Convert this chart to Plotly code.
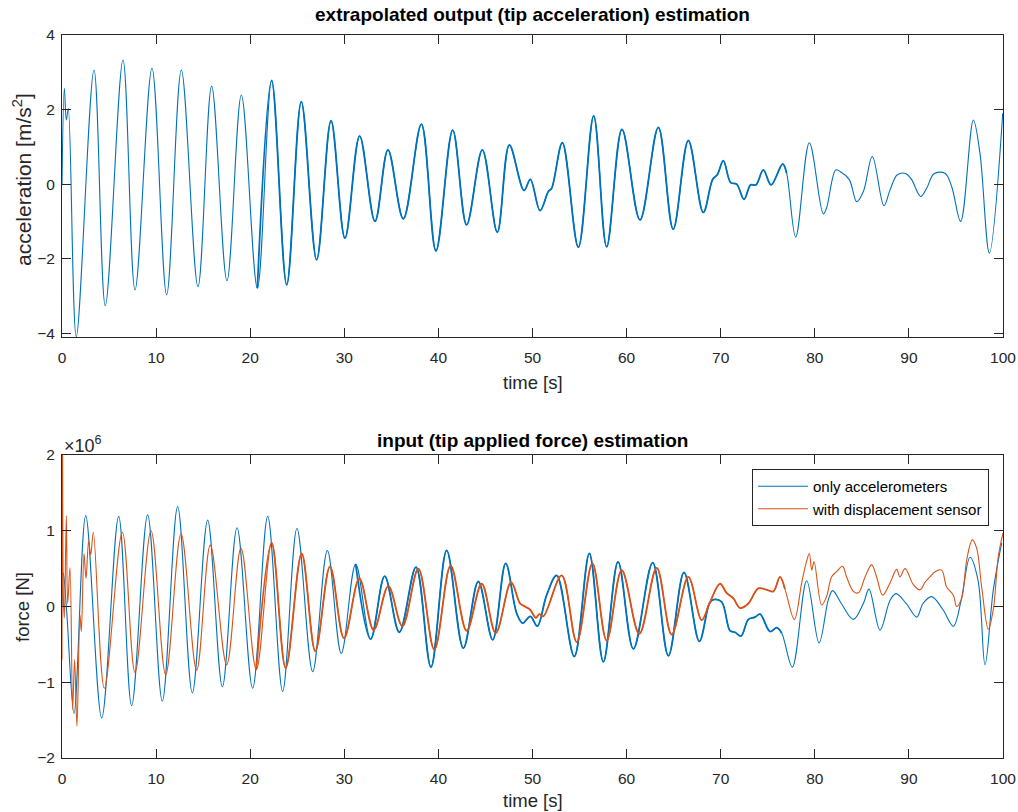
import numpy as np
import plotly.graph_objects as go

# ---------------- data ----------------
# top: extrapolated tip acceleration [m/s^2]
acc_t = [0, 0.25, 0.46, 0.67, 1.52, 3.40, 4.60, 6.48, 7.76, 9.56,
         11.12, 12.68, 14.45, 15.9, 17.53, 19.06, 20.76, 22.28, 23.88, 25.43,
         27.06, 28.59, 30.07, 31.63, 33.26, 34.64, 36.27, 38.19, 39.74, 41.52,
         43.0, 44.67, 46.26, 47.54, 49.1, 49.77, 50.8, 51.68, 52.04, 53.17,
         54.87, 56.5, 57.88, 59.51, 61.42, 63.37, 64.95, 66.56, 68.15, 69.15,
         69.64, 70.28, 71.06, 71.7, 72.48, 73.18, 73.75, 74.53, 75.35, 76.59,
         77.0, 77.97, 79.42, 80.9, 81.25, 82.22, 82.68, 83.67, 84.45, 85.16,
         86.11, 87.35, 87.99, 88.77, 89.69, 90.29, 91.25, 91.89, 92.67, 93.84,
         94.55, 95.5, 96.85, 97.55, 98.55, 99.97]
acc_val = [0, 2.57, 1.72, 2.03, -4.09, 3.06, -3.26, 3.33, -2.84, 3.11,
           -2.97, 3.06, -2.75, 2.63, -2.59, 2.39, -2.79, 2.78, -2.70, 2.21,
           -2.03, 1.70, -1.45, 1.29, -1.0, 0.92, -0.93, 1.61, -1.79, 1.45,
           -1.09, 0.92, -1.29, 1.05, -0.17, 0.13, -0.71, -0.2, -0.11, 1.11,
           -1.69, 1.83, -1.68, 1.47, -0.96, 1.52, -1.21, 1.17, -0.76, 0.13,
           0.25, 0.63, 0.04, 0.0, -0.41, -0.02, -0.02, 0.38, -0.02, 0.54,
           0.3, -1.42, 1.11, -0.8, -0.64, 0.38, 0.34, 0.12, -0.47, -0.2,
           0.74, -0.58, -0.16, 0.25, 0.28, 0.12, -0.33, -0.11, 0.28, 0.29,
           -0.07, -1.0, 1.72, 0.83, -1.85, 1.9]

# bottom: force estimate, only accelerometers [x1e6 N]
facc_t = [0, 0.15, 0.5, 1.28, 2.52, 4.22, 6.02, 7.4, 9.1, 10.66,
          12.29, 13.85, 15.48, 17.04, 18.6, 20.26, 21.86, 23.45, 24.97, 26.64,
          28.2, 29.68, 31.21, 32.8, 34.29, 35.85, 37.62, 39.21, 40.88, 42.65,
          44.24, 45.77, 47.15, 48.32, 48.96, 49.77, 50.51, 51.5, 52.57, 54.44,
          56.04, 57.53, 59.09, 60.72, 62.77, 64.44, 66.1, 67.73, 68.8, 69.22,
          70.1, 70.99, 71.52, 72.16, 72.94, 73.65, 74.18, 75.24, 75.95, 76.48,
          77.61, 79.14, 80.45, 81.44, 81.9, 82.82, 84.1, 85.16, 85.76, 86.93,
          87.99, 88.63, 89.71, 90.83, 91.5, 92.42, 93.61, 94.72, 95.55, 96.49,
          97.34, 98.09, 98.97, 99.86]
facc_val = [0, 0.44, -0.07, -1.41, 1.2, -1.47, 1.19, -1.31, 1.21, -1.25,
            1.32, -1.14, 1.14, -1.06, 1.04, -1.08, 1.19, -1.12, 1.03, -0.86,
            0.74, -0.62, 0.56, -0.43, 0.40, -0.34, 0.52, -0.80, 0.74, -0.55,
            0.33, -0.44, 0.57, -0.09, -0.22, -0.13, -0.26, 0.15, 0.41, -0.66,
            0.70, -0.73, 0.59, -0.56, 0.58, -0.65, 0.45, -0.46, 0.04, 0.09,
            0.06, -0.32, -0.34, -0.39, -0.17, -0.14, -0.10, -0.33, -0.28, -0.35,
            -0.80, 0.34, -0.48, 0.09, 0.21, 0.04, -0.17, 0.04, 0.23, -0.31,
            0.08, 0.17, 0.04, -0.14, 0.04, 0.13, -0.04, -0.26, 0.08, 0.65,
            0.35, -0.77, 0.22, 0.84]

# bottom: force estimate, with displacement sensor [x1e6 N]
fdis_t = [0, 0.05, 0.15, 0.25, 0.46, 0.6, 0.85, 1.13, 1.34, 1.59,
          1.91, 2.05, 2.34, 2.55, 2.83, 3.05, 3.33, 4.5, 6.41, 7.76,
          9.46, 11.02, 12.65, 14.31, 15.76, 17.5, 19.02, 20.65, 22.28, 23.77,
          25.47, 26.92, 28.48, 29.97, 31.6, 33.12, 34.68, 36.17, 37.87, 39.57,
          41.3, 43.0, 44.6, 46.09, 47.72, 48.68, 49.2, 49.73, 50.37, 50.72,
          51.15, 53.1, 54.7, 56.36, 57.88, 59.48, 61.35, 63.2, 64.79, 66.56,
          67.98, 68.8, 69.93, 70.62, 71.33, 72.05, 72.94, 74.0, 74.89, 75.6,
          76.3, 76.83, 77.83, 78.6, 79.07, 79.42, 79.67, 79.92, 80.73, 81.25,
          81.78, 82.32, 82.95, 83.38, 84.1, 84.63, 85.34, 86.04, 86.57, 87.21,
          87.99, 88.7, 89.05, 89.59, 90.47, 91.18, 91.71, 92.24, 92.77, 93.48,
          94.0, 94.72, 95.08, 95.61, 96.15, 96.74, 97.2, 97.73, 98.44, 98.97,
          99.5, 100]
fdis_val = [-0.7, 2.3, 0.1, -0.15, 1.2, 0.04, 0.51, -1.36, -0.7, -1.58,
            -0.11, -0.33, 0.70, 0.37, 0.86, 0.68, 0.98, -1.08, 0.98, -0.87,
            1.0, -0.90, 0.96, -0.84, 0.81, -0.77, 0.77, -0.83, 0.84, -0.81,
            0.70, -0.59, 0.53, -0.42, 0.37, -0.31, 0.27, -0.26, 0.50, -0.57,
            0.54, -0.32, 0.30, -0.35, 0.32, 0.04, 0.0, -0.04, -0.15, -0.1,
            -0.13, 0.41, -0.47, 0.57, -0.45, 0.48, -0.36, 0.51, -0.37, 0.39,
            -0.18, 0.04, 0.30, 0.18, 0.11, -0.02, 0.04, 0.24, 0.22, 0.2,
            0.39, 0.23, -0.17, 0.31, 0.57, 0.70, 0.48, 0.59, 0.02, 0.13,
            0.39, 0.46, 0.53, 0.39, 0.2, 0.18, 0.39, 0.55, 0.39, 0.15,
            0.31, 0.49, 0.39, 0.5, 0.29, 0.22, 0.32, 0.39, 0.46, 0.48,
            0.26, 0.15, 0.0, 0.11, 0.62, 0.88, 0.77, 0.26, -0.30, -0.04,
            0.66, 0.97]

x_ticks = [0, 10, 20, 30, 40, 50, 60, 70, 80, 90, 100]
acc_ticks = [-4, -2, 0, 2, 4]
force_ticks = [-2, -1, 0, 1, 2]

BLUE = "#0072BD"
ORANGE = "#D95319"
AX = "#262626"
FONT = "Liberation Sans, Arial, sans-serif"

# ---------------- layout helpers ----------------
W, H = 1018, 812
ML, MR, MT, MB = 62, 15, 35, 54
PH = H - MT - MB
PW = W - ML - MR


def py(y):  # pixel y -> paper y
    return 1 - (y - MT) / PH


def px(x):  # pixel x -> paper x
    return (x - ML) / PW


fig = go.Figure()


def add_series(t, v, color, xa, ya, name, legend, thick_range):
    t = np.asarray(t, dtype=float)
    v = np.asarray(v, dtype=float)
    fig.add_trace(go.Scatter(x=t, y=v, mode="lines", name=name, showlegend=legend,
                             line=dict(color=color, width=1.1, shape="spline", smoothing=1.0),
                             xaxis=xa, yaxis=ya, hoverinfo="skip"))
    lo, hi = thick_range
    m = (t >= lo) & (t <= hi)
    fig.add_trace(go.Scatter(x=t[m], y=v[m], mode="lines", showlegend=False,
                             line=dict(color=color, width=1.8, shape="spline", smoothing=1.0),
                             xaxis=xa, yaxis=ya, hoverinfo="skip"))


add_series(acc_t, acc_val, BLUE, "x", "y", "acc", False, (20, 77.3))
add_series(facc_t, facc_val, BLUE, "x2", "y2", "only accelerometers", True, (30, 77.3))
add_series(fdis_t, fdis_val, ORANGE, "x2", "y2", "with displacement sensor", True, (20, 77.3))

TICKFONT = dict(family=FONT, size=15.5, color=AX)
axis_common = dict(showline=True, linecolor=AX, linewidth=1, mirror="ticks",
                   ticks="inside", ticklen=9, tickwidth=1, tickcolor=AX,
                   showgrid=False, zeroline=False, automargin=False,
                   tickfont=TICKFONT)

fig.update_layout(
    width=W, height=H,
    margin=dict(l=ML, r=MR, t=MT, b=MB, autoexpand=False),
    paper_bgcolor="white", plot_bgcolor="white",
    font=dict(family=FONT, size=15.5, color=AX),
    xaxis=dict(domain=[0, 1], range=[0, 100], tickvals=x_ticks, anchor="y",
               ticklabelstandoff=6, **axis_common),
    yaxis=dict(domain=[py(337), 1], range=[-4.1, 4], tickvals=acc_ticks, anchor="x",
               ticklabelstandoff=3, **axis_common),
    xaxis2=dict(domain=[0, 1], range=[0, 100], tickvals=x_ticks, anchor="y2",
                ticklabelstandoff=6, **axis_common),
    yaxis2=dict(domain=[0, py(455)], range=[-2, 2], tickvals=force_ticks, anchor="x2",
                ticklabelstandoff=3, **axis_common),
    legend=dict(x=px(989), y=py(469), xanchor="right", yanchor="top",
                bgcolor="white", bordercolor=AX, borderwidth=1,
                font=dict(family=FONT, size=15, color="black"),
                itemwidth=50, tracegroupgap=0),
    showlegend=True,
)

annots = [
    ("<b>extrapolated output (tip acceleration) estimation</b>", 0.5, py(14), 0, "center", 19, "black"),
    ("<b>input (tip applied force) estimation</b>", 0.5, py(440), 0, "center", 19, "black"),
    ("time [s]", 0.5, py(382), 0, "center", 18.5, AX),
    ("time [s]", 0.5, py(800), 0, "center", 18.5, AX),
    ("acceleration [m/s<sup>2</sup>]", px(22), py(180), -90, "center", 21, AX),
    ("force [N]", px(22), py(607), -90, "center", 18.5, AX),
    ("×10<sup>6</sup>", px(62), py(444), 0, "left", 18, AX),
]
for text, x, y, ang, xanc, size, col in annots:
    fig.add_annotation(text=text, x=x, y=y, xref="paper", yref="paper", showarrow=False,
                       xanchor=xanc, yanchor="middle", textangle=ang,
                       font=dict(family=FONT, size=size, color=col))

fig.write_html("out.html")
